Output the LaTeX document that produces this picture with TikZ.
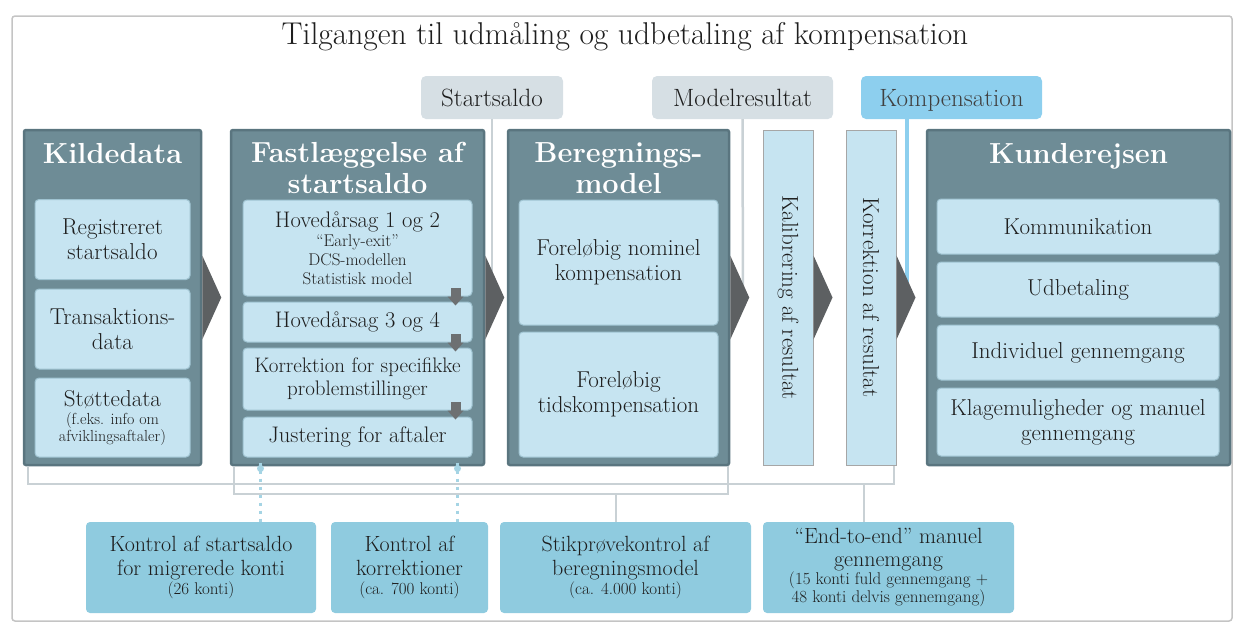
\documentclass[tikz,border=0pt]{standalone}
\usepackage{fontspec}
\usetikzlibrary{calc}

\definecolor{colfill}{HTML}{6E8C96}
\definecolor{colline}{HTML}{5A757F}
\definecolor{subfill}{HTML}{C6E4F1}
\definecolor{subline}{HTML}{9FC3D1}
\definecolor{lowfill}{HTML}{8FCBDF}
\definecolor{tagfill}{HTML}{D6DFE4}
\definecolor{kompfill}{HTML}{8DCFEE}
\definecolor{chevgray}{HTML}{5D6062}
\definecolor{linegray}{HTML}{C9D1D5}
\definecolor{dotblue}{HTML}{A5D4E4}
\definecolor{framegray}{HTML}{C4C4C4}
\definecolor{inkgray}{HTML}{1E1E1E}

\newcommand{\smalltxt}{\fontsize{16}{18}\selectfont}
\newcommand{\midtxt}{\fontsize{17}{19}\selectfont}
\newcommand{\tinytxt}{\fontsize{17}{19}\selectfont}
\newcommand{\etxt}{\fontsize{17}{18}\selectfont}

\tikzset{
    wh/.style 2 args={minimum width=#1pt, minimum height=#2pt},
    col/.style={draw=colline, line width=2.5pt, fill=colfill, rounded corners=2pt, inner sep=0pt},
    coltitle/.style={text=white, align=center, font=\fontsize{29}{31}\selectfont\bfseries},
    sub/.style={draw=subline, line width=1pt, fill=subfill, rounded corners=4pt, inner sep=0pt, align=center, text=inkgray, font=\fontsize{23}{25}\selectfont},
    fastsub/.style={sub, font=\fontsize{22.5}{25}\selectfont},
    bar/.style={draw=gray!70, line width=1pt, fill=subfill, inner sep=0pt},
    bartext/.style={rotate=-90, text=inkgray, font=\fontsize{23}{25}\selectfont},
    tag/.style={fill=tagfill, rounded corners=5pt, inner sep=0pt, text=inkgray, text height=17pt, text depth=0pt, font=\fontsize{25}{27}\selectfont},
    lowbox/.style={fill=lowfill, rounded corners=4pt, inner sep=0pt, align=center, text=inkgray, font=\fontsize{22}{24}\selectfont},
    chev/.style={fill=chevgray},
    stepdark/.style={fill=chevgray!90},
    bracket/.style={draw=linegray, line width=2pt},
    dotline/.style={draw=dotblue, line width=3pt, dash pattern=on 3pt off 5pt},
    tagline/.style={draw=linegray, line width=2.5pt},
    kompline/.style={draw=kompfill, line width=3.5pt}
}

\begin{document}
\begin{tikzpicture}[x=1pt, y=-1pt]
    \useasboundingbox (0,0) rectangle (1235,624);
    % Outer frame
    \draw[framegray, line width=1.5pt, rounded corners=3pt] (12,16) rectangle (1232,621);
    % Title
    \node[font=\fontsize{31.5}{34}\selectfont, text=inkgray] (title) at (625,37) {Tilgangen til udmåling og udbetaling af kompensation};

    % Result tags
    \node[tag, wh={142}{43}] (startL) at (492,97.5) {Startsaldo};
    \node[tag, wh={181}{43}] (modelL) at (742.5,97.5) {Modelresultat};
    \node[tag, fill=kompfill, text=black!75, wh={181}{43}] (kompL) at (951.5,97.5) {Kompensation};
    \coordinate (startEnd) at (492,300);
    \coordinate (modelEnd) at (743,300);
    \coordinate (kompEnd) at (907,300);
    \draw[tagline] (startL.south) -- (startEnd);
    \draw[tagline] (modelL.south) -- (modelEnd);
    \draw[kompline] (kompL.south -| kompEnd) -- (kompEnd);

    % Columns
    \node[col, wh={177}{335}] (kilde) at (112.5,297.5) {};
    \node[col, wh={253}{335}] (fast) at (357.5,297.5) {};
    \node[col, wh={221}{335}] (bereg) at (618.5,297.5) {};
    \node[bar, wh={50}{335}] (kalib) at (788,297.5) {};
    \node[bar, wh={50}{335}] (korr) at (871,297.5) {};
    \node[col, wh={303}{335}] (kunde) at (1078.5,297.5) {};

    % Chevrons between the steps
    \foreach \s in {kilde,fast,bereg,kalib,korr}
        \fill[chev] (\s.east) ++(0,-42) -- ++(19,42) -- ++(-19,42) -- cycle;

    % Column titles
    \node[coltitle, text height=20pt, text depth=0pt] (kildeT) at (112.5,153) {Kildedata};
    \node[coltitle] (fastT) at (357.5,168) {Fastlæggelse af\\startsaldo};
    \node[coltitle] (beregT) at (618.5,168) {Beregnings-\\model};
    \node[coltitle, text height=20pt, text depth=0pt] (kundeT) at (1078.5,153) {Kunderejsen};

    % Kildedata
    \node[sub, wh={155}{80}] (reg) at (112.5,239.5) {Registreret\\startsaldo};
    \node[sub, wh={155}{80}] (trans) at (112.5,329) {Transaktions-\\data};
    \node[sub, wh={155}{79}] (stoette) at (112.5,417.5) {Støttedata\\[-7pt]\smalltxt(f.eks. info om\\[-8pt]\smalltxt afviklingsaftaler)};

    % Fastlaeggelse af startsaldo
    \node[fastsub, wh={229}{96}] (h12) at (357.5,248) {Hovedårsag 1 og 2\\[-6pt]\midtxt``Early-exit''\\[-6pt]\midtxt DCS-modellen\\[-6pt]\midtxt Statistisk model};
    \node[fastsub, wh={229}{40}] (h34) at (357.5,322) {Hovedårsag 3 og 4};
    \node[fastsub, wh={229}{62}, font=\fontsize{21}{23}\selectfont] (korrspec) at (357.5,379) {Korrektion for specifikke\\problemstillinger};
    \node[fastsub, wh={229}{40}] (just) at (357.5,437) {Justering for aftaler};
    \foreach \a in {h12,h34,korrspec} {
        \fill[stepdark] (\a.south east) ++(-22,-9) rectangle ++(10,9);
        \fill[stepdark] (\a.south east) ++(-25,0) -- ++(16,0) -- ++(-8,9) -- cycle;
    }

    % Beregningsmodel
    \node[sub, wh={199}{125}] (nom) at (618.5,262.5) {Foreløbig nominel\\kompensation};
    \node[sub, wh={199}{125}] (tid) at (618.5,394.5) {Foreløbig\\tidskompensation};

    % Kalibrering og korrektion
    \node[bartext] (kalibT) at (kalib) {Kalibrering af resultat};
    \node[bartext] (korrT) at (korr) {Korrektion af resultat};

    % Kunderejsen
    \node[sub, wh={282}{55}] (komm) at (1078,226.5) {Kommunikation};
    \node[sub, wh={282}{55}] (udb) at (1078,289.5) {Udbetaling};
    \node[sub, wh={282}{55}] (indiv) at (1078,352.5) {Individuel gennemgang};
    \node[sub, wh={282}{68}] (klage) at (1078,422) {Klagemuligheder og manuel\\gennemgang};

    % Controls
    \node[lowbox, wh={230}{91}] (kstart) at (201,567.5) {Kontrol af startsaldo\\for migrerede konti\\[-5pt]\tinytxt(26 konti)};
    \node[lowbox, wh={157}{91}] (kkorr) at (409.5,567.5) {Kontrol af\\korrektioner\\[-5pt]\tinytxt(ca. 700 konti)};
    \node[lowbox, wh={251}{91}] (stik) at (625.5,567.5) {Stikprøvekontrol af\\beregningsmodel\\[-5pt]\tinytxt(ca. 4.000 konti)};
    \node[lowbox, wh={251}{91}, font=\fontsize{22}{23}\selectfont] (e2e) at (888.5,567.5) {``End-to-end'' manuel\\gennemgang\\[-5pt]\etxt(15 konti fuld gennemgang +\\[-5pt]\etxt 48 konti delvis gennemgang)};

    % Brackets under the steps
    \draw[bracket] ($(kilde.south west)+(5,0)$) -- ++(0,18) coordinate (bA) -| ($(korr.south east)+(-3,0)$);
    \draw[bracket] ($(fast.south west)+(4,0)$) -- ++(0,28) coordinate (bB) -| ($(bereg.south east)+(-2,0)$);
    \coordinate (stikTop) at ($(stik.north)+(-10,0)$);
    \coordinate (e2eTop) at ($(e2e.north)+(-25,0)$);
    \draw[bracket] (bB -| stikTop) -- (stikTop);
    \draw[bracket] (bA -| e2eTop) -- (e2eTop);

    % Dotted control links
    \draw[dotline] ($(just.south west)+(18,5)$) coordinate (d1) -- (d1 |- kstart.north);
    \draw[dotline] ($(just.south east)+(-15,5)$) coordinate (d2) -- (d2 |- kkorr.north);
    \fill[dotblue] ($(d1)+(0,6)$) circle (3.5pt);
    \fill[dotblue] ($(d2)+(0,6)$) circle (3.5pt);
\end{tikzpicture}
\end{document}
